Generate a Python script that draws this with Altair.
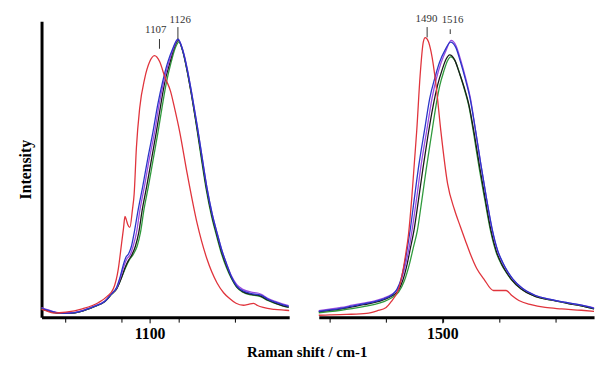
import altair as alt
import pandas as pd

# ---------------- Left panel (C-C region) ----------------
L_ticks = [1025, 1050, 1075, 1100, 1125, 1150, 1175, 1200]
L_major = [1100]
L_domain = [1004, 1223]

L_red_x = [1004.0,1006.6,1015.0,1025.5,1040.0,1054.5,1062.0,1067.6,1071.9,1074.8,1076.5,1077.8,1079.0,1080.2,1082.1,1084.4,1085.9,1087.9,1090.8,1095.2,1099.6,1103.9,1108.5,1112.9,1118.1,1122.0,1126.0,1132.9,1141.6,1150.3,1159.1,1165.0,1170.4,1176.0,1182.6,1187.0,1191.3,1195.0,1200.0,1210.0,1220.0,1223.0]
L_red_y = [2.8,2.5,1.5,1.8,3.0,5.3,7.5,10.3,17.4,26.6,32.0,36.2,35.0,33.3,32.3,38.7,44.3,61.0,75.2,85.8,91.8,94.0,91.8,86.5,81.2,74.5,67.0,51.4,33.7,20.9,12.4,8.8,6.7,5.0,4.3,4.6,5.0,4.2,3.5,2.8,2.5,2.4]

L_blue_x = [1004.0,1010.0,1020.0,1028.4,1040.0,1050.0,1060.0,1066.0,1070.2,1073.5,1076.3,1078.5,1081.0,1083.5,1086.0,1089.4,1093.5,1098.1,1102.5,1106.8,1111.0,1115.5,1120.0,1124.6,1128.5,1132.9,1137.0,1141.6,1146.0,1150.3,1155.0,1159.1,1163.5,1167.8,1172.0,1176.5,1182.0,1189.5,1195.0,1198.3,1204.0,1211.3,1217.0,1222.6]
L_blue_y = [3.2,2.5,1.5,1.5,2.3,3.8,5.7,8.5,10.6,14.5,18.8,21.5,22.8,25.5,30.5,38.5,47.0,57.4,66.5,76.5,84.5,91.5,96.5,100.0,96.5,89.0,80.0,69.0,57.5,46.5,37.0,30.5,24.0,19.0,14.5,11.3,9.5,8.5,8.2,7.9,6.5,5.3,4.5,3.9]

L_purple_x = [1004.0,1010.0,1020.0,1028.4,1040.0,1050.0,1060.0,1066.0,1070.5,1074.0,1077.0,1079.5,1082.5,1085.0,1088.0,1091.0,1095.0,1099.5,1104.0,1108.0,1112.0,1116.5,1120.5,1124.8,1128.6,1133.0,1137.0,1141.6,1146.0,1150.3,1155.0,1159.1,1163.5,1167.8,1172.0,1176.5,1182.0,1189.5,1195.0,1198.3,1204.0,1211.3,1217.0,1222.6]
L_purple_y = [3.5,2.6,1.6,1.6,2.4,3.9,5.8,8.5,10.6,14.5,18.5,21.0,22.5,25.5,30.5,38.5,47.0,57.4,66.5,76.5,84.5,91.5,96.5,100.0,96.5,89.0,80.0,69.0,57.5,46.5,37.0,30.5,24.0,19.0,14.8,11.8,10.0,9.0,8.7,8.2,6.8,5.6,4.8,4.2]

L_black_x = [1004.0,1010.0,1020.0,1028.4,1040.0,1050.0,1060.0,1066.0,1070.5,1074.5,1078.0,1081.0,1084.0,1087.0,1090.0,1093.0,1097.0,1101.5,1105.5,1109.5,1113.0,1117.5,1121.0,1125.0,1128.6,1132.8,1136.8,1141.3,1145.7,1150.0,1154.7,1158.8,1163.2,1167.5,1172.0,1176.5,1182.0,1189.5,1195.0,1198.3,1204.0,1211.3,1217.0,1222.6]
L_black_y = [3.0,2.3,1.4,1.4,2.2,3.7,5.6,8.3,10.3,14.0,18.0,20.5,22.5,25.5,30.5,38.5,47.0,57.4,66.5,76.5,84.5,91.5,96.5,99.5,96.0,88.5,79.5,68.5,57.0,46.0,36.5,30.0,23.5,18.5,14.2,11.0,9.2,8.2,7.9,7.5,6.2,5.0,4.2,3.6]

L_green_x = [1004.0,1010.0,1020.0,1028.4,1040.0,1050.0,1060.0,1066.0,1070.5,1074.5,1078.5,1081.5,1085.0,1088.5,1091.5,1094.5,1098.5,1103.0,1107.0,1111.0,1114.5,1118.5,1122.0,1125.5,1129.0,1133.0,1137.0,1141.3,1145.5,1149.8,1154.5,1158.6,1163.0,1167.3,1171.8,1176.5,1182.0,1189.5,1195.0,1198.3,1204.0,1211.3,1217.0,1222.6]
L_green_y = [3.0,2.3,1.4,1.4,2.2,3.7,5.6,8.3,10.3,14.0,18.0,20.5,22.5,25.5,30.5,38.5,47.0,57.4,66.5,76.5,84.5,91.5,96.5,99.0,95.5,88.0,79.0,68.0,56.5,45.5,36.0,29.5,23.0,18.0,14.0,10.8,9.0,8.0,7.7,7.3,6.0,4.9,4.1,3.5]

L_labels = ["1107", "1126"]
L_label_x = [1105.0, 1126.6]
L_label_y = [103.2, 106.7]
L_mark_x = [1108.3, 1124.6]
L_mark_y1 = [96.5, 100.0]
L_mark_y2 = [100.0, 104.3]

# ---------------- Right panel (C=C region) ----------------
R_ticks = [1400, 1425, 1450, 1475, 1500, 1525, 1550, 1575, 1600, 1625]
R_major = [1500]
R_domain = [1390.5, 1633.6]

R_red_x = [1390.5,1400.0,1415.0,1432.7,1442.0,1450.0,1455.2,1458.6,1461.2,1464.0,1467.0,1469.8,1472.7,1475.0,1477.0,1480.0,1482.8,1484.5,1487.1,1489.7,1494.1,1498.3,1504.3,1510.3,1515.5,1520.0,1524.1,1530.0,1536.2,1544.8,1550.0,1556.0,1561.0,1567.2,1578.0,1590.5,1605.0,1622.4,1633.6]
R_red_y = [0.7,0.8,1.0,1.4,2.3,3.5,6.0,8.0,10.3,15.0,22.0,30.0,43.3,56.0,67.0,86.9,98.9,100.5,99.3,95.4,83.3,67.0,47.9,38.7,32.6,27.5,23.0,17.5,13.8,9.6,9.6,9.6,7.8,6.0,4.5,3.5,3.0,2.5,2.1]

R_blue_x = [1390.5,1400.0,1410.0,1420.0,1430.0,1440.0,1448.0,1455.0,1459.5,1463.0,1466.4,1469.0,1471.3,1475.0,1479.0,1484.0,1488.5,1493.0,1497.0,1502.0,1506.9,1511.5,1515.5,1520.0,1524.1,1529.0,1533.6,1538.5,1543.7,1548.5,1553.2,1557.5,1561.8,1570.0,1581.9,1595.0,1610.0,1622.4,1633.6]
R_blue_y = [2.1,2.6,3.2,4.0,4.8,5.6,6.6,8.0,10.0,13.5,19.5,25.5,31.6,43.0,55.0,67.5,78.7,86.0,91.5,96.0,98.9,97.0,92.0,85.5,78.7,67.0,55.0,43.0,31.6,24.0,19.5,16.3,13.8,10.5,7.8,6.4,5.2,4.3,3.2]

R_purple_x = [1390.5,1400.0,1410.0,1420.0,1430.0,1440.0,1448.0,1455.0,1460.0,1463.5,1467.5,1470.5,1473.0,1477.0,1481.0,1486.0,1490.5,1494.5,1498.5,1503.0,1507.3,1511.8,1515.8,1520.2,1524.3,1529.0,1533.6,1538.5,1543.5,1548.3,1553.0,1557.3,1561.6,1570.0,1581.9,1595.0,1610.0,1622.4,1633.6]
R_purple_y = [2.4,2.9,3.5,4.3,5.1,5.9,6.9,8.2,10.0,13.5,19.5,25.5,31.6,43.0,55.0,67.5,78.7,86.0,91.5,96.0,99.5,97.5,92.5,86.0,79.0,67.0,55.0,43.0,31.6,24.0,19.5,16.3,13.8,10.5,7.8,6.4,5.2,4.3,3.3]

R_black_x = [1390.5,1400.0,1410.0,1420.0,1430.0,1440.0,1448.0,1455.0,1460.5,1464.5,1468.5,1471.5,1474.5,1478.5,1482.5,1487.0,1491.5,1495.5,1499.5,1503.0,1506.0,1510.5,1514.5,1519.0,1523.0,1528.0,1532.6,1537.5,1542.7,1547.5,1552.2,1556.5,1560.8,1569.0,1581.0,1595.0,1610.0,1622.4,1633.6]
R_black_y = [2.0,2.5,3.0,3.7,4.5,5.3,6.3,7.6,9.5,13.0,19.0,25.0,31.0,42.0,53.5,65.5,76.0,83.5,89.0,92.8,94.3,92.5,88.0,82.5,76.5,65.5,54.0,42.5,31.0,23.5,19.0,16.0,13.5,10.2,7.6,6.2,5.0,4.1,3.0]

R_green_x = [1390.5,1400.0,1410.0,1420.0,1430.0,1440.0,1448.0,1455.0,1461.0,1466.0,1470.5,1474.0,1477.5,1481.5,1485.5,1490.0,1494.0,1497.5,1501.0,1504.0,1507.0,1511.0,1515.0,1519.0,1523.0,1527.5,1532.0,1537.0,1542.2,1547.0,1551.8,1556.2,1560.5,1569.0,1581.0,1595.0,1610.0,1622.4,1633.6]
R_green_y = [1.6,2.0,2.5,3.1,3.8,4.6,5.6,7.0,9.0,13.0,19.0,25.0,31.0,42.0,53.5,65.5,76.0,83.5,88.5,92.0,93.6,92.0,87.5,82.0,76.0,65.5,54.0,42.5,31.0,23.5,19.0,16.0,13.5,10.2,7.6,6.2,5.0,4.1,3.0]

R_labels = ["1490", "1516"]
R_label_x = [1485.6, 1508.6]
R_label_y = [107.1, 106.7]
R_mark_x = [1486.2, 1506.6]
R_mark_y1 = [100.6, 101.8]
R_mark_y2 = [104.3, 103.5]

Y_MAX = 106.4
COLORS = {"green": "#2f9a3c", "black": "#1a1a1a", "purple": "#9a4be0",
          "blue": "#2a35c8", "red": "#e0343c"}
SERIF = "Liberation Serif"


def series_df(xs, ys):
    return pd.DataFrame({"shift": xs, "intensity": ys, "order": list(range(len(xs)))})


def panel(series, ticks, major, domain, labels, lx, ly, mx, my1, my2, width, show_y):
    xscale = alt.Scale(domain=domain, nice=False, zero=False)
    yscale = alt.Scale(domain=[0, Y_MAX], nice=False, zero=True)
    xenc = alt.X("shift:Q", scale=xscale,
                 axis=alt.Axis(values=ticks, title=None, grid=False, labels=False,
                               domainWidth=3, domainColor="black", tickColor="black",
                               tickSize=5, tickWidth=1))
    if show_y:
        yaxis = alt.Axis(title="Intensity", labels=False, ticks=False, grid=False,
                         domainWidth=3, domainColor="black", titleFont=SERIF,
                         titleFontSize=16, titleFontWeight="bold", titleColor="black",
                         titlePadding=8)
    else:
        yaxis = None
    yenc = alt.Y("intensity:Q", scale=yscale, axis=yaxis)
    layers = []
    for name, xs, ys in series:
        layers.append(
            alt.Chart(series_df(xs, ys)).mark_line(color=COLORS[name], strokeWidth=1.3,
                                                   interpolate="monotone")
            .encode(x=xenc, y=yenc, order="order:Q")
        )
    ann = pd.DataFrame({"label": labels, "lx": lx, "ly": ly, "mx": mx, "my1": my1, "my2": my2})
    layers.append(
        alt.Chart(ann).mark_text(font=SERIF, fontSize=11, color="#333333")
        .encode(x=alt.X("lx:Q", scale=xscale), y=alt.Y("ly:Q", scale=yscale), text="label:N")
    )
    layers.append(
        alt.Chart(ann).mark_rule(color="#333333", strokeWidth=1)
        .encode(x=alt.X("mx:Q", scale=xscale), y=alt.Y("my1:Q", scale=yscale), y2="my2:Q")
    )
    major_df = pd.DataFrame({"v": major, "txt": [str(m) for m in major]})
    # longer major tick and its label
    layers.append(
        alt.Chart(major_df).mark_rule(color="black", strokeWidth=1)
        .encode(x=alt.X("v:Q", scale=xscale), y=alt.datum(0, scale=yscale), y2=alt.datum(-2.2))
    )
    layers.append(
        alt.Chart(major_df).mark_text(font=SERIF, fontSize=16, fontWeight="bold",
                                      color="black", baseline="top", dy=9)
        .encode(x=alt.X("v:Q", scale=xscale), y=alt.datum(0, scale=yscale), text="txt:N")
    )
    return alt.layer(*layers).properties(width=width, height=300)


left = panel([("green", L_green_x, L_green_y), ("black", L_black_x, L_black_y),
              ("purple", L_purple_x, L_purple_y), ("blue", L_blue_x, L_blue_y),
              ("red", L_red_x, L_red_y)],
             L_ticks, L_major, L_domain, L_labels, L_label_x, L_label_y,
             L_mark_x, L_mark_y1, L_mark_y2, 251, True)

right = panel([("green", R_green_x, R_green_y), ("black", R_black_x, R_black_y),
               ("purple", R_purple_x, R_purple_y), ("blue", R_blue_x, R_blue_y),
               ("red", R_red_x, R_red_y)],
              R_ticks, R_major, R_domain, R_labels, R_label_x, R_label_y,
              R_mark_x, R_mark_y1, R_mark_y2, 279, False)

chart = alt.hconcat(left, right, spacing=24).properties(
    title=alt.TitleParams(text="Raman shift / cm-1", orient="bottom", anchor="middle",
                          font=SERIF, fontSize=15, fontWeight="bold", color="black",
                          offset=3),
    padding={"left": 10, "top": 3, "right": 0, "bottom": 0},
    background="white",
).configure_view(stroke=None)

chart.save("out.html", embed_options={"renderer": "svg", "actions": False})
